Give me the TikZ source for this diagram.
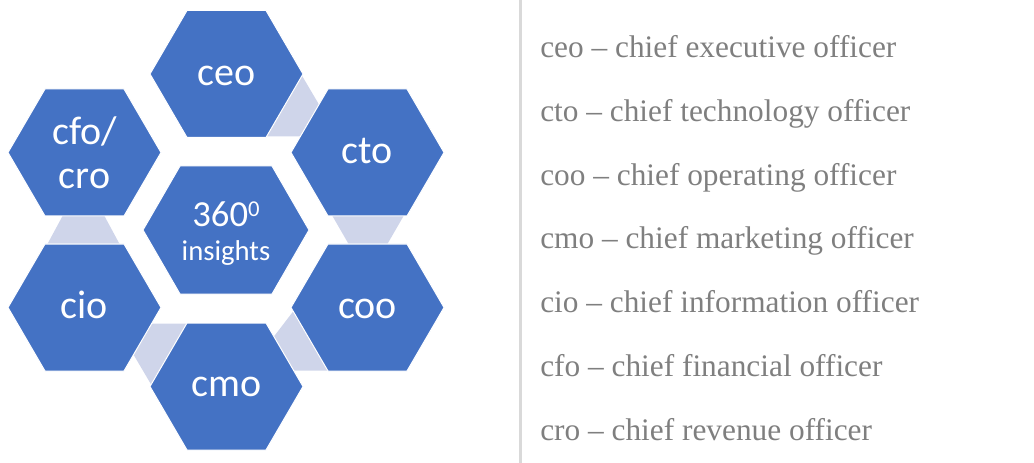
\documentclass[tikz,border=0pt]{standalone}
\usepackage{fontspec}
\setmainfont{Liberation Serif}[Ligatures=NoCommon]
\newfontfamily\hexfont{Carlito}
\usetikzlibrary{calc}
\definecolor{hexblue}{HTML}{4472C4}
\definecolor{linkfill}{HTML}{CFD5EA}
\definecolor{legendgray}{HTML}{7F7F7F}
\definecolor{dividergray}{HTML}{D9D9D9}
\tikzset{
  hexlabel/.style={text=white, font=\hexfont\fontsize{30}{33}\selectfont, inner sep=0pt, align=center},
  legend/.style={anchor=base west, inner sep=0pt, text=legendgray, font=\fontsize{23.5}{28}\selectfont},
  hexbody/.style={fill=hexblue, draw=white, line width=0.75pt, line join=round},
  linkbody/.style={fill=linkfill},
  divider/.style={draw=dividergray, line width=2.25pt},
  pics/hexa/.style n args={3}{code={\path[hexbody] (-#1,0) -- (-#3,-#2) -- (#3,-#2) -- (#1,0) -- (#3,#2) -- (-#3,#2) -- cycle;}},
}
\begin{document}
\begin{tikzpicture}[x=0.75pt,y=-0.75pt]
\useasboundingbox (0,0) rectangle (1034,463);
% hexagon centres
\coordinate (ceo) at (226.5,74);
\coordinate (cto) at (367.5,152.5);
\coordinate (coo) at (367.5,307.5);
\coordinate (cmo) at (226.5,386.5);
\coordinate (cio) at (84.5,307.5);
\coordinate (cfo) at (84.5,152.5);
\coordinate (hub) at (226,230);
% light links between neighbouring hexagons (partly hidden)
\fill[linkbody] (299,70.6) -- (322.8,111) -- (305,136.5) -- (262,136.5) -- cycle;
\fill[linkbody] (330.1,212) -- (405.9,212) -- (385.1,248) -- (350.9,248) -- cycle;
\fill[linkbody] (297,306.4) -- (270,341.6) -- (290,370.5) -- (335,370.5) -- cycle;
\fill[linkbody] (154,389.4) -- (130.2,349) -- (148,323.5) -- (191,323.5) -- cycle;
\fill[linkbody] (64.7,212) -- (102.3,212) -- (121.7,248) -- (45.3,248) -- cycle;
% hexagons
\pic at (ceo) {hexa={76.5}{63.5}{39.5}};
\pic at (cto) {hexa={76.5}{63.5}{39.5}};
\pic at (coo) {hexa={76.5}{63.5}{39.5}};
\pic at (cmo) {hexa={76.5}{63.5}{39.5}};
\pic at (cio) {hexa={76.5}{63.5}{39.5}};
\pic at (cfo) {hexa={76.5}{63.5}{39.5}};
\pic at (hub) {hexa={83}{64}{46}};
% labels
\node[hexlabel, anchor=base] (ceo-t) at ($(ceo)+(0,12)$) {ceo};
\node[hexlabel, anchor=base] (cto-t) at ($(cto)+(0,11)$) {cto};
\node[hexlabel, anchor=base] (coo-t) at ($(coo)+(0,11)$) {coo};
\node[hexlabel, anchor=base] (cmo-t) at ($(cmo)+(0,9.5)$) {cmo};
\node[hexlabel, anchor=base] (cio-t) at ($(cio)+(0,11)$) {cio};
\node[hexlabel] (cfo-t) at (cfo) {cfo/\\cro};
\node[hexlabel, font=\hexfont\fontsize{21.5}{26}\selectfont] (hub-t) at ($(hub)+(0,3.5)$)
  {{\fontsize{27.5}{30}\selectfont 360\raisebox{7.5pt}{\fontsize{17}{17}\selectfont 0}}\\insights};
% divider
\coordinate (divtop) at (520,0);
\coordinate (divbot) at (520,463);
\draw[divider] (divtop) -- (divbot);
% legend
\foreach \i/\t in {0/ceo – chief executive officer,
                   1/cto – chief technology officer,
                   2/coo – chief operating officer,
                   3/cmo – chief marketing officer,
                   4/cio – chief information officer,
                   5/cfo – chief financial officer,
                   6/cro – chief revenue officer}
  \node[legend] (legend-\i) at (540,57.5+63.8*\i) {\t};
\end{tikzpicture}
\end{document}
